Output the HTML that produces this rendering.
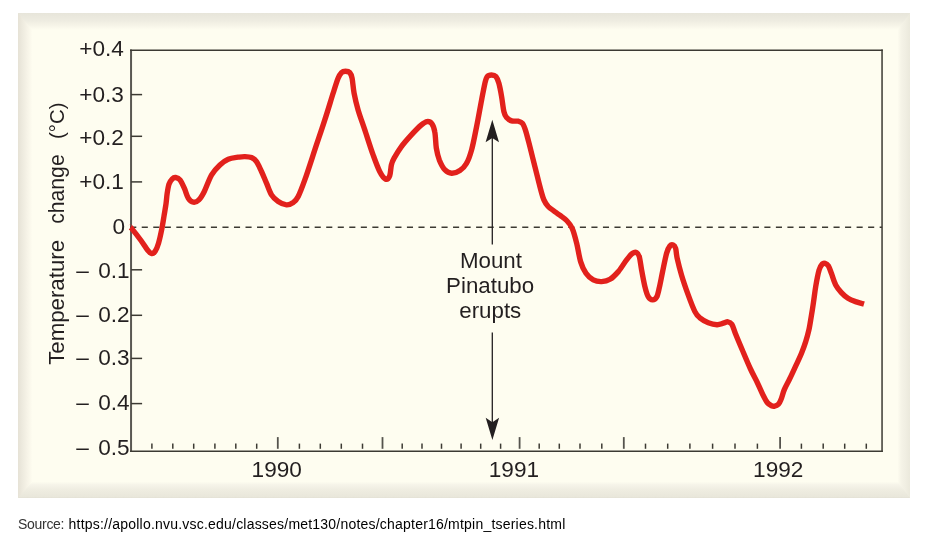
<!DOCTYPE html>
<html lang="en">
<head>
<meta charset="utf-8">
<title>Mount Pinatubo temperature change</title>
<style>
html,body{margin:0;padding:0;background:#fff;}
body{width:937px;height:550px;position:relative;overflow:hidden;font-family:"Liberation Sans",Arial,sans-serif;}
svg{position:absolute;left:0;top:0;display:block;will-change:transform;}
svg text{font-family:"Liberation Sans",Arial,sans-serif;font-size:22.3px;fill:#231f20;}
svg text.ax{font-size:22.6px;word-spacing:3px;}
svg text.yl{font-size:22.6px;word-spacing:9.2px;}
.src{will-change:transform;position:absolute;left:17.9px;top:514px;margin:0;font-size:14px;line-height:20px;white-space:nowrap;color:#000;}
.src .s{color:#333;letter-spacing:-0.29px;position:absolute;left:0;top:0;}
.src .u{letter-spacing:0.21px;position:absolute;left:50.6px;top:0;}
</style>
</head>
<body>
<svg width="937" height="550" viewBox="0 0 937 550">
<defs>
<linearGradient id="gl" x1="0" y1="0" x2="1" y2="0"><stop offset="0" stop-color="#e6e2d6"/><stop offset="0.36" stop-color="#efece0"/><stop offset="0.67" stop-color="#f7f4e8"/><stop offset="1" stop-color="#fefdf0"/></linearGradient>
<linearGradient id="gt" x1="0" y1="0" x2="0" y2="1"><stop offset="0" stop-color="#e7e5da"/><stop offset="0.45" stop-color="#eeece1"/><stop offset="0.73" stop-color="#f6f4e8"/><stop offset="1" stop-color="#fefdf0"/></linearGradient>
<linearGradient id="gr" x1="1" y1="0" x2="0" y2="0"><stop offset="0" stop-color="#ebe9dc"/><stop offset="0.34" stop-color="#f0eee2"/><stop offset="0.7" stop-color="#f5f3e7"/><stop offset="1" stop-color="#fefdf0"/></linearGradient>
<linearGradient id="gb" x1="0" y1="1" x2="0" y2="0"><stop offset="0" stop-color="#e2e0d4"/><stop offset="0.08" stop-color="#e9e7db"/><stop offset="0.5" stop-color="#efede1"/><stop offset="0.8" stop-color="#f6f4e9"/><stop offset="1" stop-color="#fefdf0"/></linearGradient>
</defs>
<rect x="18" y="13" width="892" height="485" fill="#fefdf0"/>
<rect x="18" y="13" width="14.5" height="485" fill="url(#gl)"/>
<rect x="897.5" y="13" width="12.5" height="485" fill="url(#gr)"/>
<polygon points="18,13 910,13 897.5,30 32.5,30" fill="url(#gt)"/>
<polygon points="18,498 32.5,481.5 897.5,481.5 910,498" fill="url(#gb)"/>
<g stroke="#3c3a33" stroke-width="1.5" fill="none">
<line x1="131.05" y1="49.60" x2="131.05" y2="452.02" stroke="#5a5852" stroke-width="2"/>
<line x1="130.05" y1="50.35" x2="882.80" y2="50.35"/>
<line x1="882.05" y1="49.60" x2="882.05" y2="452.02"/>
<line x1="130.05" y1="451.27" x2="882.80" y2="451.27"/>
<line x1="151.9" y1="443.6" x2="151.9" y2="448.8"/><line x1="172.8" y1="443.6" x2="172.8" y2="448.8"/><line x1="193.7" y1="443.6" x2="193.7" y2="448.8"/><line x1="214.9" y1="443.6" x2="214.9" y2="448.8"/><line x1="235.8" y1="443.6" x2="235.8" y2="448.8"/><line x1="256.7" y1="443.6" x2="256.7" y2="448.8"/><line x1="299.4" y1="443.6" x2="299.4" y2="448.8"/><line x1="320.3" y1="443.6" x2="320.3" y2="448.8"/><line x1="341.3" y1="443.6" x2="341.3" y2="448.8"/><line x1="362.5" y1="443.6" x2="362.5" y2="448.8"/><line x1="402.2" y1="443.6" x2="402.2" y2="448.8"/><line x1="422.0" y1="443.6" x2="422.0" y2="448.8"/><line x1="441.5" y1="443.6" x2="441.5" y2="448.8"/><line x1="461.1" y1="443.6" x2="461.1" y2="448.8"/><line x1="480.7" y1="443.6" x2="480.7" y2="448.8"/><line x1="500.6" y1="443.6" x2="500.6" y2="448.8"/><line x1="539.2" y1="443.6" x2="539.2" y2="448.8"/><line x1="559.3" y1="443.6" x2="559.3" y2="448.8"/><line x1="580.0" y1="443.6" x2="580.0" y2="448.8"/><line x1="601.8" y1="443.6" x2="601.8" y2="448.8"/><line x1="645.5" y1="443.6" x2="645.5" y2="448.8"/><line x1="667.7" y1="443.6" x2="667.7" y2="448.8"/><line x1="689.9" y1="443.6" x2="689.9" y2="448.8"/><line x1="712.6" y1="443.6" x2="712.6" y2="448.8"/><line x1="735.0" y1="443.6" x2="735.0" y2="448.8"/><line x1="757.4" y1="443.6" x2="757.4" y2="448.8"/><line x1="801.4" y1="443.6" x2="801.4" y2="448.8"/><line x1="823.2" y1="443.6" x2="823.2" y2="448.8"/><line x1="844.7" y1="443.6" x2="844.7" y2="448.8"/><line x1="866.3" y1="443.6" x2="866.3" y2="448.8"/><g stroke="#55534d" stroke-width="1.8"><line x1="277.8" y1="437.1" x2="277.8" y2="448.8"/><line x1="382.5" y1="437.1" x2="382.5" y2="448.8"/><line x1="519.6" y1="437.1" x2="519.6" y2="448.8"/><line x1="623.8" y1="437.1" x2="623.8" y2="448.8"/><line x1="780.1" y1="437.1" x2="780.1" y2="448.8"/></g><line x1="131.1" y1="94.6" x2="142.1" y2="94.6"/><line x1="131.1" y1="136.3" x2="142.1" y2="136.3"/><line x1="131.1" y1="181.9" x2="142.1" y2="181.9"/><line x1="131.1" y1="269.8" x2="142.1" y2="269.8"/><line x1="131.1" y1="315.3" x2="142.1" y2="315.3"/><line x1="131.1" y1="358.4" x2="142.1" y2="358.4"/><line x1="131.1" y1="403.6" x2="142.1" y2="403.6"/>
<line x1="130.2" y1="227.3" x2="882.05" y2="227.3" stroke-dasharray="6.1 5.43"/>
</g>
<g stroke="#231f20" stroke-width="1.3">
<line x1="492.3" y1="136" x2="492.3" y2="244.4"/>
<line x1="492.3" y1="332.4" x2="492.3" y2="424"/>
</g>
<polygon points="492.3,119.8 499,142.3 492.3,138.0 485.6,142.3" fill="#231f20"/>
<polygon points="492.4,440.0 499.1,417.8 492.4,422.2 485.7,417.8" fill="#231f20"/>
<path d="M130.3 227.6 C130.6 227.8 130.0 226.4 131.8 228.6 C133.6 230.8 138.4 236.9 141.0 240.5 C143.6 244.1 145.7 247.8 147.5 250.0 C149.3 252.2 150.4 253.4 151.7 253.6 C153.0 253.8 154.2 252.8 155.3 251.0 C156.5 249.2 157.5 246.6 158.6 242.9 C159.7 239.2 160.9 233.5 161.8 229.0 C162.7 224.5 163.3 220.4 164.0 216.1 C164.7 211.8 165.6 207.0 166.1 203.2 C166.6 199.4 166.7 196.4 167.2 193.2 C167.7 190.0 168.2 186.6 169.0 184.2 C169.8 181.8 171.2 179.9 172.3 178.8 C173.4 177.7 174.3 177.3 175.6 177.5 C176.9 177.7 178.6 178.1 180.0 179.9 C181.4 181.7 182.9 185.1 184.3 188.2 C185.7 191.2 186.8 195.9 188.3 198.2 C189.8 200.5 191.5 201.9 193.3 202.2 C195.1 202.5 197.1 201.7 198.9 199.9 C200.7 198.1 202.2 195.7 204.3 191.5 C206.4 187.3 209.0 179.3 211.6 174.9 C214.2 170.5 217.1 167.5 219.9 164.9 C222.7 162.3 225.1 160.5 228.2 159.2 C231.2 157.9 235.4 157.6 238.2 157.2 C241.0 156.8 242.7 156.5 244.9 156.6 C247.1 156.7 249.6 156.8 251.5 157.6 C253.4 158.4 254.8 159.3 256.5 161.6 C258.2 163.9 259.8 167.9 261.5 171.5 C263.2 175.1 264.8 179.3 266.5 183.2 C268.2 187.1 269.6 191.8 271.5 194.9 C273.4 198.0 275.7 199.8 278.2 201.5 C280.7 203.2 284.0 204.7 286.5 204.9 C289.0 205.1 291.2 203.9 293.2 202.5 C295.1 201.1 296.3 200.3 298.2 196.5 C300.1 192.7 302.0 187.7 304.8 179.9 C307.6 172.1 311.5 159.9 314.8 149.9 C318.1 139.9 321.8 129.3 324.8 119.9 C327.9 110.5 330.9 100.2 333.1 93.3 C335.3 86.4 336.7 81.8 338.1 78.3 C339.5 74.8 340.3 73.8 341.5 72.6 C342.7 71.4 344.1 71.3 345.5 71.3 C346.9 71.3 348.7 71.4 349.8 72.6 C350.9 73.8 351.4 74.8 352.1 78.3 C352.8 81.8 353.1 88.0 354.1 93.3 C355.1 98.6 356.3 103.8 358.1 109.9 C359.9 116.0 362.3 122.4 364.8 129.9 C367.3 137.4 370.6 148.0 373.1 154.9 C375.6 161.8 377.6 167.4 379.7 171.5 C381.8 175.6 384.0 178.5 385.7 179.2 C387.4 179.9 388.8 178.3 389.7 175.9 C390.6 173.5 390.7 167.9 391.4 164.9 C392.1 161.9 392.4 161.2 394.1 158.2 C395.8 155.1 398.5 150.5 401.4 146.6 C404.3 142.7 408.1 138.5 411.4 134.9 C414.7 131.3 418.8 127.1 421.4 124.9 C424.0 122.7 425.3 121.8 427.0 121.6 C428.7 121.4 430.5 121.9 431.8 123.6 C433.1 125.3 434.1 127.9 434.8 132.0 C435.6 136.1 435.6 143.3 436.3 148.0 C437.1 152.7 437.9 156.2 439.3 159.9 C440.8 163.6 442.9 167.7 445.0 169.9 C447.1 172.1 449.1 173.1 451.6 173.2 C454.1 173.3 457.4 172.2 459.9 170.5 C462.4 168.8 464.7 166.6 466.6 163.2 C468.6 159.8 469.9 156.0 471.6 149.9 C473.3 143.8 474.9 134.9 476.6 126.6 C478.3 118.3 480.2 107.1 481.6 99.9 C483.0 92.7 484.0 87.2 484.9 83.3 C485.8 79.4 486.1 78.0 487.2 76.6 C488.3 75.2 490.2 75.0 491.6 75.0 C493.1 75.0 494.7 75.2 495.9 76.6 C497.1 78.0 497.9 80.0 498.9 83.3 C499.8 86.6 500.8 91.9 501.6 96.6 C502.4 101.3 503.1 108.1 503.9 111.6 C504.7 115.1 505.3 116.0 506.6 117.6 C507.9 119.1 509.7 120.3 511.6 120.9 C513.5 121.5 516.4 120.8 518.2 121.2 C520.0 121.6 521.2 121.7 522.5 123.4 C523.8 125.1 524.7 127.7 525.9 131.6 C527.1 135.5 528.4 140.8 529.9 146.6 C531.4 152.4 533.2 159.9 534.9 166.6 C536.6 173.2 538.4 180.9 539.9 186.5 C541.4 192.1 542.5 196.6 543.9 199.9 C545.3 203.2 546.6 204.7 548.2 206.5 C549.9 208.3 551.9 209.4 553.8 210.8 C555.7 212.2 557.7 213.6 559.8 215.2 C561.9 216.8 564.5 218.3 566.6 220.5 C568.7 222.7 570.5 224.5 572.2 228.3 C573.9 232.1 575.3 237.8 576.7 243.3 C578.1 248.9 579.1 256.6 580.6 261.6 C582.1 266.6 583.9 270.2 586.0 273.3 C588.1 276.4 590.7 278.5 593.3 279.9 C595.9 281.3 598.8 281.7 601.6 281.6 C604.4 281.5 607.2 281.0 610.0 279.3 C612.8 277.6 615.5 274.8 618.3 271.6 C621.1 268.4 624.2 262.9 626.6 259.9 C629.0 256.8 630.9 254.5 632.6 253.3 C634.3 252.1 635.5 252.0 636.6 252.6 C637.7 253.2 638.5 253.7 639.3 256.6 C640.1 259.5 640.7 264.9 641.6 269.9 C642.5 274.9 643.8 282.2 644.9 286.6 C646.0 291.1 646.9 294.4 648.2 296.6 C649.5 298.8 651.2 299.8 652.6 299.9 C654.0 300.0 655.5 299.1 656.6 297.2 C657.7 295.2 658.2 292.5 659.2 288.2 C660.2 283.9 661.4 277.4 662.6 271.6 C663.8 265.8 665.4 257.6 666.6 253.3 C667.8 249.0 668.8 247.4 669.9 246.0 C671.0 244.6 672.2 244.6 673.2 245.0 C674.2 245.4 674.9 246.1 675.6 248.3 C676.3 250.5 676.2 253.9 677.2 258.3 C678.2 262.7 679.7 268.8 681.5 274.9 C683.3 281.0 686.0 288.8 688.2 294.9 C690.4 301.0 693.0 307.8 694.9 311.6 C696.8 315.4 697.7 316.0 699.9 317.8 C702.1 319.6 705.4 321.6 708.3 322.7 C711.1 323.8 714.5 324.6 717.0 324.7 C719.5 324.8 721.5 323.7 723.3 323.2 C725.1 322.7 726.5 321.6 727.9 321.8 C729.3 322.0 730.5 322.2 731.8 324.2 C733.1 326.2 733.8 329.5 735.5 333.7 C737.2 337.9 739.6 343.6 742.1 349.5 C744.6 355.4 747.9 363.4 750.5 369.0 C753.1 374.6 755.5 378.9 757.6 383.2 C759.7 387.5 761.4 391.8 763.0 395.0 C764.6 398.2 765.8 400.7 767.2 402.5 C768.6 404.3 770.2 405.1 771.5 405.7 C772.8 406.3 773.5 406.4 774.7 406.1 C775.9 405.9 777.4 405.3 778.5 404.2 C779.6 403.1 780.1 401.7 781.1 399.3 C782.1 396.9 782.9 393.0 784.3 389.6 C785.7 386.2 787.6 383.1 789.6 379.0 C791.6 374.9 794.1 369.4 796.1 365.1 C798.1 360.8 799.8 357.3 801.4 353.4 C803.0 349.5 804.5 345.5 805.7 341.6 C807.0 337.7 807.9 334.3 808.9 329.9 C809.9 325.5 810.7 319.6 811.5 315.0 C812.3 310.4 812.8 306.8 813.5 302.1 C814.2 297.4 814.8 292.0 815.7 286.6 C816.6 281.2 818.0 273.7 819.1 269.9 C820.2 266.1 821.4 265.0 822.4 263.9 C823.4 262.8 824.1 263.0 825.1 263.3 C826.1 263.6 827.4 264.2 828.4 265.9 C829.4 267.6 830.2 270.1 831.4 273.3 C832.6 276.5 834.0 281.7 835.7 284.9 C837.4 288.1 839.4 290.4 841.4 292.6 C843.4 294.8 845.5 296.6 848.0 298.2 C850.5 299.8 853.7 300.9 856.4 301.9 C859.1 302.9 862.7 303.7 864.0 304.1" fill="none" stroke="#e2211c" stroke-width="5.4" stroke-linejoin="round" stroke-linecap="butt"/>
<text class="ax" x="123.8" y="56.4" text-anchor="end">+0.4</text><text class="ax" x="123.8" y="101.8" text-anchor="end">+0.3</text><text class="ax" x="123.8" y="145.0" text-anchor="end">+0.2</text><text class="ax" x="123.8" y="189.0" text-anchor="end">+0.1</text><text class="ax" x="125.0" y="233.5" text-anchor="end">0</text><text class="ax" x="129.6" y="277.5" text-anchor="end">– 0.1</text><text class="ax" x="129.6" y="321.8" text-anchor="end">– 0.2</text><text class="ax" x="129.6" y="365.3" text-anchor="end">– 0.3</text><text class="ax" x="129.6" y="410.4" text-anchor="end">– 0.4</text><text class="ax" x="129.6" y="455.1" text-anchor="end">– 0.5</text>
<text class="ax" x="276.7" y="477.0" text-anchor="middle">1990</text>
<text class="ax" x="513.9" y="477.0" text-anchor="middle">1991</text>
<text class="ax" x="778.2" y="477.0" text-anchor="middle">1992</text>
<text x="491.0" y="267.6" text-anchor="middle">Mount</text>
<text x="490.1" y="292.6" text-anchor="middle">Pinatubo</text>
<text x="490.3" y="317.7" text-anchor="middle">erupts</text>
<g transform="translate(63.8 0) rotate(-90)">
<text x="-364.85" y="0" style="font-size:22.25px">Temperature</text>
<text x="-223.85" y="0" style="font-size:21.2px">change</text>
<text x="-139.0" y="0" style="font-size:20.4px">(°C)</text>
</g>
</svg>
<p class="src"><span class="s">Source: </span><span class="u">https://apollo.nvu.vsc.edu/classes/met130/notes/chapter16/mtpin_tseries.html</span></p>
</body>
</html>
